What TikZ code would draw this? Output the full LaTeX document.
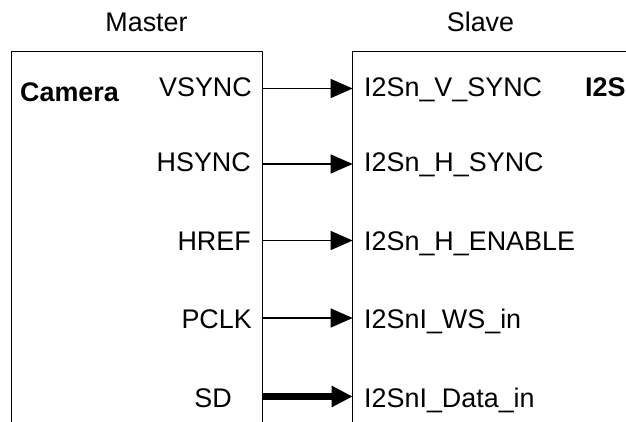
\documentclass[tikz,border=0pt]{standalone}
\usepackage{fontspec}
\setmainfont{Liberation Sans}
\usetikzlibrary{arrows.meta}
\begin{document}
\begin{tikzpicture}[x=1pt,y=-1pt,
  lbl/.style={inner sep=0pt,font=\fontsize{26.9}{32}\selectfont},
  boxline/.style={line width=1.3pt,line join=miter},
  sig/.style={line width=1.3pt,-{Triangle[length=22pt,width=19pt]}},
  bus/.style={line width=6.5pt,-{Triangle[length=21pt,width=20pt]}}]
\useasboundingbox (0,0) rectangle (626,422);
% boxes
\coordinate (mBL) at (11.7,430);
\coordinate (mTL) at (11.7,51.7);
\coordinate (mTR) at (262.7,51.7);
\coordinate (mBR) at (262.7,430);
\coordinate (sBL) at (352.7,430);
\coordinate (sTL) at (352.7,51.7);
\coordinate (sTR) at (640,51.7);
\draw[boxline] (mBL) -- (mTL) -- (mTR) -- (mBR);
\draw[boxline] (sBL) -- (sTL) -- (sTR);
% titles
\node[lbl,anchor=base] (master) at (146.5,32) {Master};
\node[lbl,anchor=base] (slave) at (480.5,32) {Slave};
\node[lbl,anchor=base west,font=\fontsize{26.9}{32}\selectfont\bfseries] (camera) at (20,102) {Camera};
\node[lbl,anchor=base west,font=\fontsize{26.9}{32}\selectfont\bfseries] (i2s) at (585,97) {I2S};
% left labels
\node[lbl,anchor=base east] (vs) at (252,97) {VSYNC};
\node[lbl,anchor=base east] (hs) at (251,172) {HSYNC};
\node[lbl,anchor=base east] (hr) at (251,250) {HREF};
\node[lbl,anchor=base east] (pc) at (252,328) {PCLK};
\node[lbl,anchor=base east] (sd) at (232,407) {SD};
% right labels
\node[lbl,anchor=base west] (ivs) at (364,97) {I2Sn\_V\_SYNC};
\node[lbl,anchor=base west] (ihs) at (364,172) {I2Sn\_H\_SYNC};
\node[lbl,anchor=base west] (ihe) at (364,250) {I2Sn\_H\_ENABLE};
\node[lbl,anchor=base west] (iws) at (364,328) {I2SnI\_WS\_in};
\node[lbl,anchor=base west] (idt) at (364,407) {I2SnI\_Data\_in};
% connector endpoints
\coordinate (a1) at (262.7,88.5);  \coordinate (b1) at (352.7,88.5);
\coordinate (a2) at (262.7,164); \coordinate (b2) at (352.7,164);
\coordinate (a3) at (262.7,240.5); \coordinate (b3) at (352.7,240.5);
\coordinate (a4) at (262.7,318); \coordinate (b4) at (352.7,318);
\coordinate (a5) at (262.7,396.5); \coordinate (b5) at (352.7,396.5);
\draw[sig] (a1) -- (b1);
\draw[sig] (a2) -- (b2);
\draw[sig] (a3) -- (b3);
\draw[sig] (a4) -- (b4);
\draw[bus] (a5) -- (b5);
\end{tikzpicture}
\end{document}
